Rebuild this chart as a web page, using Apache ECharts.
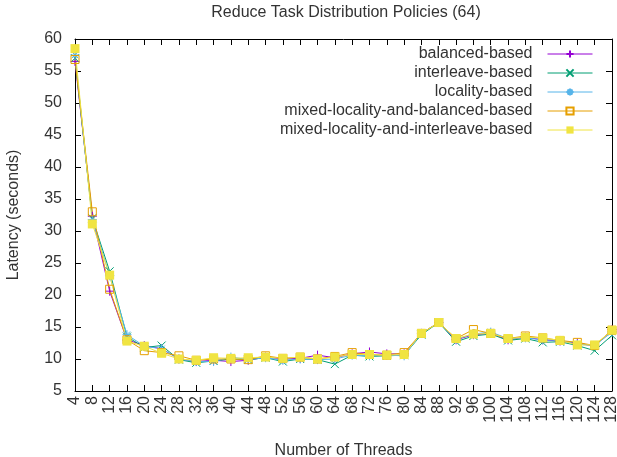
<!DOCTYPE html>
<html>
<head>
<meta charset="utf-8">
<script src="https://cdn.jsdelivr.net/npm/echarts@6/dist/echarts.min.js"></script>
<style>
  html, body { margin: 0; padding: 0; background: #fff; }
  #chart { width: 617px; height: 457px; }
</style>
</head>
<body>
<div id="chart"></div>
<script>
// Thread counts on the x axis
const threads = [4, 8, 12, 16, 20, 24, 28, 32, 36, 40, 44, 48, 52, 56, 60, 64,
                 68, 72, 76, 80, 84, 88, 92, 96, 100, 104, 108, 112, 116, 120, 124, 128];

// Latency (seconds) per policy
const balanced = [56.5, 32.3, 20.6, 13.0, 12.1, 11.6, 10.0, 9.6, 9.8, 9.6, 9.8, 10.3, 10.0, 10.1, 10.6, 10.2,
                  10.8, 11.1, 10.8, 10.8, 14.0, 15.7, 13.0, 13.8, 14.0, 13.0, 13.4, 13.0, 12.8, 12.5, 12.0, 14.6];
const interleave = [57.0, 32.0, 23.7, 13.5, 11.8, 12.1, 9.9, 9.4, 9.7, 10.0, 9.9, 10.2, 9.6, 10.0, 9.9, 9.2,
                    10.6, 10.4, 10.5, 10.6, 13.8, 15.7, 12.7, 13.6, 13.9, 12.9, 13.2, 12.6, 12.7, 12.1, 11.3, 13.7];
const locality = [57.5, 31.8, 23.0, 13.8, 12.0, 11.6, 10.0, 9.6, 9.6, 10.3, 9.9, 10.2, 9.8, 10.0, 9.9, 10.0,
                  10.6, 10.5, 10.6, 10.5, 14.0, 15.7, 13.1, 13.9, 14.2, 13.2, 13.3, 13.0, 12.9, 12.3, 12.1, 14.2];
const mixedBalanced = [56.8, 33.0, 20.9, 13.0, 11.3, 11.0, 10.5, 9.8, 10.0, 10.0, 9.9, 10.5, 10.1, 10.3, 10.0, 10.4,
                       11.0, 10.7, 10.6, 11.0, 14.0, 15.7, 13.2, 14.6, 14.0, 13.2, 13.6, 13.3, 12.9, 12.6, 12.1, 14.5];
const mixedInterleave = [58.5, 31.1, 23.1, 12.8, 12.0, 10.9, 10.0, 9.8, 10.2, 10.1, 10.2, 10.3, 10.1, 10.3, 10.0, 10.3,
                         10.7, 10.7, 10.6, 10.7, 14.0, 15.7, 13.2, 13.9, 14.0, 13.2, 13.4, 13.3, 12.9, 12.2, 12.2, 14.5];

const seriesNames = ['balanced-based', 'interleave-based', 'locality-based',
                     'mixed-locality-and-balanced-based', 'mixed-locality-and-interleave-based'];
const seriesValues = [balanced, interleave, locality, mixedBalanced, mixedInterleave];

const colors = ['#9400d3', '#009e73', '#56b4e9', '#e69f00', '#f0e442'];
const PLUS = 'path://M0,5L10,5M5,0L5,10';
const CROSS = 'path://M0,0L10,10M10,0L0,10';
const STAR = 'path://M0,5L10,5M5,0L5,10M1.5,1.5L8.5,8.5M8.5,1.5L1.5,8.5';
const symbols = [
  { symbol: PLUS, size: 9, filled: false },
  { symbol: CROSS, size: 8, filled: false },
  { symbol: STAR, size: 9, filled: false },
  { symbol: 'rect', size: 8, filled: false },
  { symbol: 'rect', size: 9, filled: true }
];

const FONT = 'Liberation Sans';
const FS = 16;
const TXT = '#333';

const chart = echarts.init(document.getElementById('chart'), null, { renderer: 'canvas' });

const axisCommon = {
  axisLine: { show: true, lineStyle: { color: '#000', width: 1 } },
  splitLine: { show: false }
};
const tickIn = { show: true, inside: true, length: 6, lineStyle: { color: '#000' } };

chart.setOption({
  animation: false,
  backgroundColor: '#fff',
  title: {
    text: 'Reduce Task Distribution Policies (64)',
    left: 341, textAlign: 'center', top: 0,
    textStyle: { fontFamily: FONT, fontSize: FS, fontWeight: 'normal', color: TXT }
  },
  grid: { left: 75, right: 5, top: 39, bottom: 66, containLabel: false, outerBoundsMode: 'none' },
  legend: {
    data: seriesNames,
    orient: 'vertical',
    right: 19, top: 41,
    align: 'right',
    itemWidth: 45, itemHeight: 9, itemGap: 3,
    lineStyle: { width: 1 },
    textStyle: { fontFamily: FONT, fontSize: FS, color: TXT, padding: [0, 10, 0, 0] }
  },
  xAxis: [
    Object.assign({
      type: 'value', min: 4, max: 128, interval: 4,
      name: 'Number of Threads', nameLocation: 'middle', nameGap: 52,
      nameTextStyle: { fontFamily: FONT, fontSize: FS, color: TXT },
      axisTick: tickIn,
      axisLabel: { rotate: 90, fontFamily: FONT, fontSize: FS, color: TXT, margin: 5 }
    }, axisCommon),
    Object.assign({
      type: 'value', min: 4, max: 128, interval: 4, position: 'top',
      axisTick: tickIn,
      axisLabel: { show: false }
    }, axisCommon)
  ],
  yAxis: [
    Object.assign({
      type: 'value', min: 5, max: 60, interval: 5,
      name: 'Latency (seconds)', nameLocation: 'middle', nameGap: 53,
      nameTextStyle: { fontFamily: FONT, fontSize: FS, color: TXT },
      axisTick: tickIn,
      axisLabel: { fontFamily: FONT, fontSize: FS, color: TXT, margin: 13 }
    }, axisCommon),
    Object.assign({
      type: 'value', min: 5, max: 60, interval: 5, position: 'right',
      axisTick: tickIn,
      axisLabel: { show: false }
    }, axisCommon)
  ],
  series: seriesNames.map((name, i) => {
    const s = symbols[i];
    return {
      name: name,
      type: 'line',
      data: threads.map((t, j) => [t, seriesValues[i][j]]),
      symbol: s.symbol,
      symbolSize: s.size,
      showSymbol: true,
      lineStyle: { color: colors[i], width: 1 },
      itemStyle: s.filled
        ? { color: colors[i], borderWidth: 0 }
        : { color: 'rgba(255,255,255,0)', borderColor: colors[i], borderWidth: 1 },
      emphasis: { disabled: true }
    };
  })
});
</script>
</body>
</html>
